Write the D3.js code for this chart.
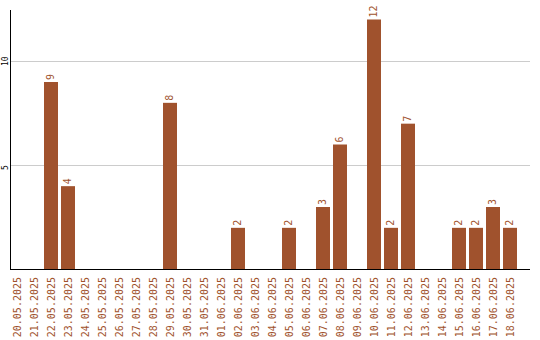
<!DOCTYPE html>
<html><head><meta charset="utf-8">
<script src="https://cdn.jsdelivr.net/npm/d3@7"></script>
<style>body{margin:0;background:#fff}svg{display:block}text{font-family:"DejaVu Sans Mono",monospace}</style>
</head><body><svg id="c" width="540" height="340"></svg>
<script>
const categories = ["20.05.2025","21.05.2025","22.05.2025","23.05.2025","24.05.2025","25.05.2025","26.05.2025","27.05.2025","28.05.2025","29.05.2025","30.05.2025","31.05.2025","01.06.2025","02.06.2025","03.06.2025","04.06.2025","05.06.2025","06.06.2025","07.06.2025","08.06.2025","09.06.2025","10.06.2025","11.06.2025","12.06.2025","13.06.2025","14.06.2025","15.06.2025","16.06.2025","17.06.2025","18.06.2025"];
const values = [0,0,9,4,0,0,0,0,0,8,0,0,0,2,0,0,2,0,3,6,0,12,2,7,0,0,2,2,3,2];
const yTicks = [5,10];

const color = "#a0522d";
const svg = d3.select("#c");
const x = d3.scaleBand().domain(categories).range([10,520]).padding(0);
const y = d3.scaleLinear().domain([0,12]).range([269.5,19.5]);

// gridlines
svg.append("g").selectAll("line").data(yTicks).join("line")
  .attr("x1",10).attr("x2",530)
  .attr("y1",d=>Math.round(y(d))+0.5).attr("y2",d=>Math.round(y(d))+0.5)
  .attr("stroke","#ccc").attr("stroke-width",1);

// y tick labels
svg.append("g").selectAll("text").data(yTicks).join("text")
  .attr("transform",d=>`translate(5,${Math.round(y(d))+5}) rotate(-90)`)
  .attr("text-anchor","start").attr("dominant-baseline","middle")
  .attr("font-size",8).attr("fill","#000").text(d=>d);

// bars
const bw = x.bandwidth()-3;
svg.append("g").selectAll("rect").data(values.map((v,i)=>({c:categories[i],v})).filter(d=>d.v>0)).join("rect")
  .attr("x",d=>x(d.c)).attr("width",bw)
  .attr("y",d=>y(d.v)).attr("height",d=>y(0)-y(d.v))
  .attr("fill",color);

// value labels
svg.append("g").selectAll("text").data(values.map((v,i)=>({c:categories[i],v})).filter(d=>d.v>0)).join("text")
  .attr("transform",d=>`translate(${x(d.c)+bw/2},${y(d.v)-2}) rotate(-90)`)
  .attr("text-anchor","start").attr("dominant-baseline","middle")
  .attr("font-size",10).attr("fill",color).text(d=>d.v);

// axes lines
svg.append("line").attr("x1",10.5).attr("x2",10.5).attr("y1",10).attr("y2",270).attr("stroke","#000");
svg.append("line").attr("x1",10).attr("x2",530).attr("y1",269.5).attr("y2",269.5).attr("stroke","#000");

// x labels
svg.append("g").selectAll("text").data(categories).join("text")
  .attr("transform",d=>`translate(${x(d)+bw/2+1},277) rotate(-90)`)
  .attr("text-anchor","end").attr("dominant-baseline","middle")
  .attr("font-size",10).attr("fill",color).text(d=>d);
</script></body></html>
